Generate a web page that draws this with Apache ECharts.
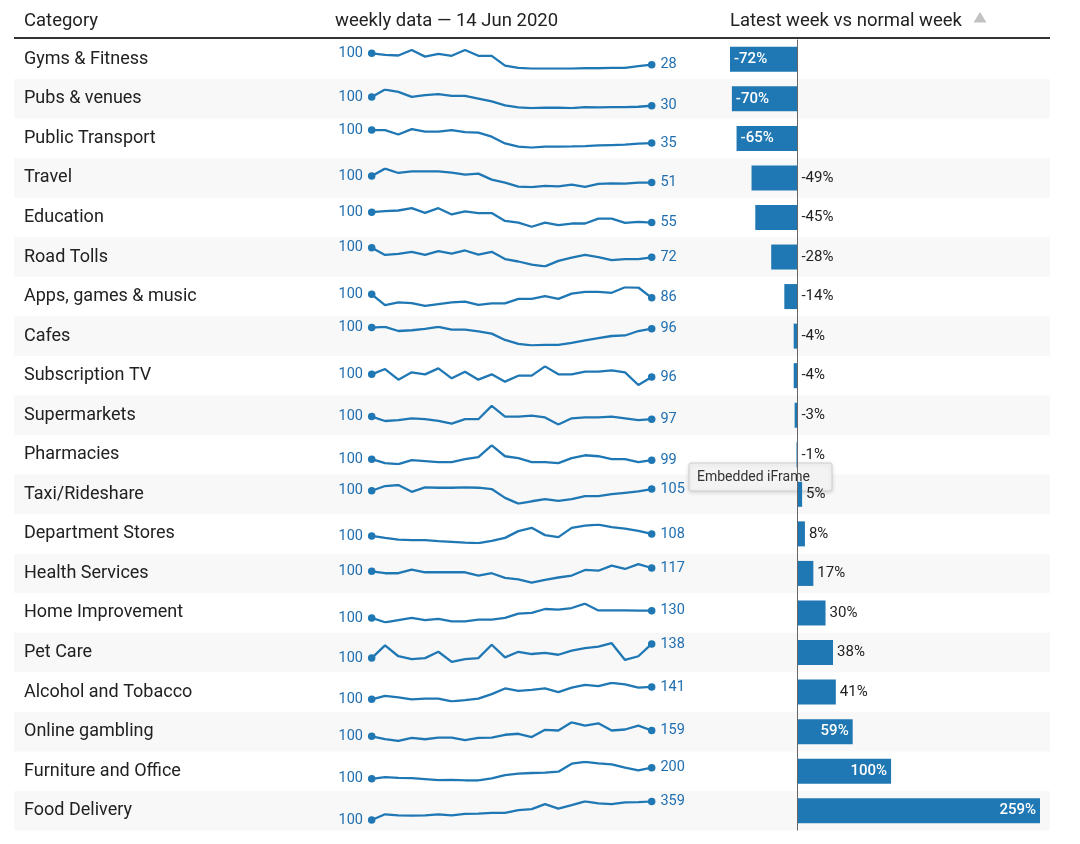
<!DOCTYPE html>
<html>
<head>
<meta charset="utf-8">
<script src="https://cdn.jsdelivr.net/npm/echarts@6/dist/echarts.min.js"></script>
<style>
html,body{margin:0;padding:0;background:#fff;}
#chart{width:1080px;height:844px;}
</style>
</head>
<body>
<div id="chart"></div>
<script>
const categories = ['Gyms & Fitness','Pubs & venues','Public Transport','Travel','Education','Road Tolls','Apps, games & music','Cafes','Subscription TV','Supermarkets','Pharmacies','Taxi/Rideshare','Department Stores','Health Services','Home Improvement','Pet Care','Alcohol and Tobacco','Online gambling','Furniture and Office','Food Delivery'];
const changePct = [-72,-70,-65,-49,-45,-28,-14,-4,-4,-3,-1,5,8,17,30,38,41,59,100,259];
const weeks = ['19 Jan','26 Jan','2 Feb','9 Feb','16 Feb','23 Feb','1 Mar','8 Mar','15 Mar','22 Mar','29 Mar','5 Apr','12 Apr','19 Apr','26 Apr','3 May','10 May','17 May','24 May','31 May','7 Jun','14 Jun'];

const sparkGyms = [100,90,86,121,79,96,84,121,84,84,22,7,3,3,3,3,5,5,7,7,18,28];
const sparkPubs = [100,159,140,100,114,122,108,108,87,65,33,17,11,14,14,11,19,17,19,19,22,30];
const sparkTransport = [100,100,78,105,92,92,100,90,87,67,33,17,12,17,17,18,20,23,25,27,32,35];
const sparkTravel = [100,154,122,134,134,134,125,110,117,73,51,22,17,27,24,36,19,41,46,44,51,51];
const sparkEducation = [100,104,107,117,97,117,90,103,96,96,62,55,37,55,44,51,51,72,72,54,58,55];
const sparkRoadTolls = [100,79,82,88,79,90,83,92,80,88,67,60,51,46,62,71,79,73,64,67,67,72];
const sparkApps = [100,57,68,65,54,61,68,71,58,64,64,82,82,93,82,103,110,110,106,128,127,86];
const sparkCafes = [100,103,87,90,95,103,92,92,86,77,53,38,32,34,34,42,51,60,68,70,87,96];
const sparkSubTV = [100,108,92,103,100,109,94,104,92,100,89,98,98,112,100,100,104,104,106,103,84,96];
const sparkSupermarkets = [100,95,96,98,97,95,92,97,97,112,100,100,101,99,91,98,99,99,100,98,96,97];
const sparkPharmacies = [100,96,95,99,98,97,97,100,102,114,103,101,97,97,96,101,104,103,100,100,97,99];
const sparkTaxi = [100,114,117,97,110,109,109,110,109,105,79,62,69,75,70,75,84,84,90,94,98,105];
const sparkDeptStores = [100,92,85,83,83,79,76,73,71,80,92,119,132,103,95,132,141,145,135,129,120,108];
const sparkHealth = [100,90,90,109,95,95,95,95,78,90,66,58,41,56,68,78,107,103,129,112,137,117];
const sparkHome = [100,82,91,100,91,96,86,86,93,93,100,118,121,137,134,141,159,131,131,131,130,130];
const sparkPet = [100,134,105,97,100,117,90,97,100,136,102,117,111,114,109,120,127,131,140,95,105,138];
const sparkAlcohol = [100,111,106,100,102,102,93,97,102,117,136,128,131,136,124,139,148,144,155,150,139,141];
const sparkGambling = [100,71,54,84,71,87,87,61,84,87,116,126,93,166,159,241,208,231,159,169,208,159];
const sparkFurniture = [100,115,109,106,97,88,91,85,85,103,133,146,152,155,164,236,252,239,230,200,176,200];
const sparkFood = [100,180,166,161,166,180,166,185,190,199,199,237,251,321,260,307,359,331,321,345,350,359];

const sparkData = [sparkGyms,sparkPubs,sparkTransport,sparkTravel,sparkEducation,sparkRoadTolls,sparkApps,sparkCafes,sparkSubTV,sparkSupermarkets,sparkPharmacies,sparkTaxi,sparkDeptStores,sparkHealth,sparkHome,sparkPet,sparkAlcohol,sparkGambling,sparkFurniture,sparkFood];

const BLUE = '#1f77b4';
const LABEL_BLUE = '#1f6eb0';
const FONT = 'Roboto';
const TOP = 39.5, ROW_H = 39.55;
const SPARK_LEFT = 371.7, SPARK_W = 280, SPARK_H = 18.6;
const BAR_LEFT = 730, BAR_W = 310;

const grids = [], xAxes = [], yAxes = [], series = [], graphics = [];

// row backgrounds
categories.forEach((c, i) => {
  if (i % 2 === 1) {
    graphics.push({type:'rect', z:-10, shape:{x:14, y:TOP + i*ROW_H, width:1036, height:ROW_H}, style:{fill:'#f8f8f8'}, silent:true});
  }
});
// header
graphics.push({type:'line', z:5, shape:{x1:14, y1:38, x2:1050, y2:38}, style:{stroke:'#333', lineWidth:2}, silent:true});
graphics.push({type:'text', x:24, y:21, style:{text:'Category', fontSize:18.5, fontFamily:FONT, fill:'#222', verticalAlign:'middle'}});
graphics.push({type:'text', x:335, y:21, style:{text:'weekly data \u2014 14 Jun 2020', fontSize:18.5, fontFamily:FONT, fill:'#222', verticalAlign:'middle'}});
graphics.push({type:'text', x:730, y:21, style:{text:'Latest week vs normal week', fontSize:18.5, fontFamily:FONT, fill:'#222', verticalAlign:'middle'}});
graphics.push({type:'polygon', shape:{points:[[973.5,22.5],[986.5,22.5],[980,12]]}, style:{fill:'#c2c2c2'}, silent:true});
// browser tooltip overlay seen in the reference
graphics.push({type:'group', z:100, children:[
  {type:'rect', shape:{x:689, y:463, width:143, height:28, r:2}, style:{fill:'#f3f3f3', stroke:'#cfcfcf', lineWidth:1, shadowBlur:4, shadowColor:'rgba(0,0,0,0.15)', shadowOffsetY:1}},
  {type:'text', x:697, y:477, style:{text:'Embedded iFrame', fontSize:14, fontFamily:FONT, fill:'#333', verticalAlign:'middle'}}
]});

// bar grid (index 0)
grids.push({left:BAR_LEFT, width:BAR_W, top:TOP, height:ROW_H*categories.length, containLabel:false});
xAxes.push({type:'value', gridIndex:0, min:'dataMin', max:'dataMax', show:false});
yAxes.push({type:'category', gridIndex:0, data:categories, inverse:true,
  axisLine:{show:false, onZero:false}, axisTick:{show:false}, splitLine:{show:false},
  axisLabel:{margin:BAR_LEFT-24, align:'left', verticalAlign:'middle', padding:[3,0,0,0], fontSize:18, color:'#212121', fontFamily:FONT}});
series.push({
  type:'bar', xAxisIndex:0, yAxisIndex:0, barWidth:25, silent:true,
  itemStyle:{color:BLUE},
  data: changePct.map(v => {
    const inside = Math.abs(v) >= 50;
    return {value:v, label:{show:true, position: inside ? (v < 0 ? 'insideLeft' : 'insideRight') : 'right',
      distance:4, color: inside ? '#fff' : '#222', fontSize:15, fontFamily:FONT, fontWeight: inside ? 500 : 'normal',
      formatter: v + '%'}};
  }),
  markLine:{silent:true, symbol:'none', label:{show:false}, lineStyle:{color:'#666', width:1, type:'solid'}, data:[{xAxis:0}]}
});

// sparklines
sparkData.forEach((arr, i) => {
  const g = i + 1;
  const center = TOP + (i + 0.5) * ROW_H;
  grids.push({left:SPARK_LEFT, width:SPARK_W, top:center - SPARK_H/2, height:SPARK_H});
  xAxes.push({type:'category', gridIndex:g, data:weeks, boundaryGap:false, show:false});
  yAxes.push({type:'value', gridIndex:g, min:'dataMin', max:'dataMax', show:false, scale:true});
  const last = arr.length - 1;
  series.push({
    type:'line', xAxisIndex:g, yAxisIndex:g, silent:true, showAllSymbol:true,
    symbol:'circle',
    symbolSize:(val, p) => (p.dataIndex === 0 || p.dataIndex === last) ? 7.5 : 0,
    lineStyle:{color:BLUE, width:2.3}, itemStyle:{color:BLUE},
    data: arr.map((v, k) => {
      if (k === 0) return {value:v, label:{show:true, position:'left', distance:5, color:LABEL_BLUE, fontSize:14.5, fontFamily:FONT}};
      if (k === last) return {value:v, label:{show:true, position:'right', distance:5, color:LABEL_BLUE, fontSize:14.5, fontFamily:FONT}};
      return v;
    })
  });
});

const chart = echarts.init(document.getElementById('chart'), null, {renderer:'canvas'});
chart.setOption({
  animation:false,
  textStyle:{fontFamily:FONT},
  grid:grids, xAxis:xAxes, yAxis:yAxes, series:series, graphic:graphics
});
</script>
</body>
</html>
